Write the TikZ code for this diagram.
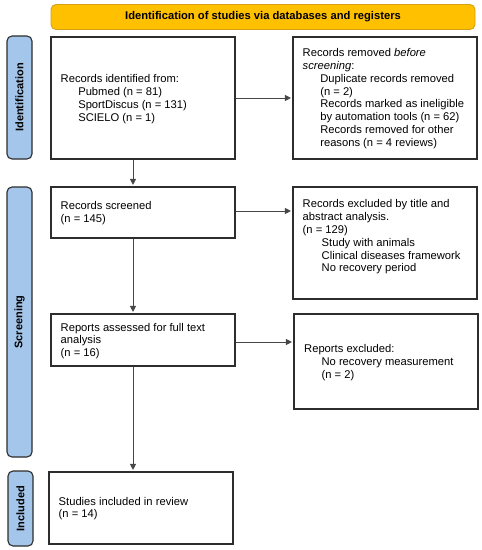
\documentclass[tikz,border=0pt]{standalone}
\usepackage{fontspec}
\setmainfont{Liberation Sans}
\usetikzlibrary{arrows.meta}
\definecolor{banfill}{RGB}{255,192,0}
\definecolor{bandraw}{RGB}{214,160,20}
\definecolor{sidefill}{RGB}{164,198,234}
\definecolor{sidedraw}{RGB}{45,45,45}
\definecolor{boxdraw}{RGB}{45,45,45}
\definecolor{arrc}{RGB}{70,70,70}
\tikzset{
  stagebox/.style={draw=boxdraw, line width=1.1pt, rectangle, minimum width=184pt, inner sep=0pt},
  boxtext/.style={anchor=west, align=left, inner sep=0pt, font=\fontsize{11.2}{12.8}\selectfont},
  sidelabel/.style={draw=sidedraw, fill=sidefill, line width=1.1pt, rounded corners=5pt, minimum width=25pt, inner sep=0pt},
  sidetext/.style={rotate=90, font=\bfseries\fontsize{11}{12}\selectfont, inner sep=0pt},
  banner/.style={draw=bandraw, fill=banfill, line width=0.9pt, rounded corners=5pt, minimum width=424pt, minimum height=25pt, inner sep=0pt, font=\bfseries\fontsize{11.2}{12}\selectfont},
  arr/.style={draw=arrc, line width=0.9pt, -{Triangle[length=6pt,width=6pt]}, shorten >=1.5pt}
}
\newcommand{\ind}{\hspace*{17.6pt}}
\begin{document}
\begin{tikzpicture}[x=1pt,y=-1pt]
\useasboundingbox (0,0) rectangle (482,550);
% banner
\node[banner] (ban) at (263,17) {Identification of studies via databases and registers};
% side labels
\node[sidelabel, minimum height=123pt] (sid) at (19.5,97.5) {};
\node[sidetext] (sidt) at (sid.center) {Identification};
\node[sidelabel, minimum height=270pt] (sscr) at (19.5,322) {};
\node[sidetext] (sscrt) at (sscr.center) {Screening};
\node[sidelabel, minimum height=75pt] (sinc) at (20.5,508.5) {};
\node[sidetext] (sinct) at (sinc.center) {Included};
% boxes
\node[stagebox, minimum height=122pt] (id) at (143,98) {};
\node[stagebox, minimum height=122pt] (rem) at (385,98) {};
\node[stagebox, minimum height=51pt] (scr) at (143,212.5) {};
\node[stagebox, minimum height=112pt] (exc) at (385,243) {};
\node[stagebox, minimum height=52pt] (rep) at (143,340) {};
\node[stagebox, minimum height=95pt] (repx) at (386,361.5) {};
\node[stagebox, minimum height=72pt] (inc) at (141,508) {};
% texts
\node[boxtext] (idt) at (60.5,99) {Records identified from:\\\ind Pubmed (n = 81)\\\ind SportDiscus (n = 131)\\\ind SCIELO (n = 1)};
\node[boxtext] (remt) at (302.5,98.5) {Records removed \textit{before}\\\textit{screening}:\\\ind Duplicate records removed\\\ind (n = 2)\\\ind Records marked as ineligible\\\ind by automation tools (n = 62)\\\ind Records removed for other\\\ind reasons (n = 4 reviews)};
\node[boxtext] (scrt) at (60.5,213) {Records screened\\(n = 145)};
\node[boxtext] (exct) at (302.5,237) {Records excluded by title and\\abstract analysis.\\(n = 129)\\\hspace*{19pt}Study with animals\\\hspace*{19pt}Clinical diseases framework\\\hspace*{19pt}No recovery period};
\node[boxtext] (rept) at (60.5,341) {Reports assessed for full text\\analysis\\(n = 16)};
\node[boxtext] (repxt) at (304,362.5) {Reports excluded:\\\hspace*{17.4pt}No recovery measurement\\\hspace*{17.4pt}(n = 2)};
\node[boxtext] (inct) at (58.5,508.5) {Studies included in review\\(n = 14)};
% connectors
\draw[arr] ([xshift=-10pt]id.south) -- ([xshift=-10pt]scr.north);
\draw[arr] ([xshift=-10pt]scr.south) -- ([xshift=-10pt]rep.north);
\draw[arr] ([xshift=-10pt]rep.south) -- ([xshift=-8pt]inc.north);
\draw[arr] (id.east) -- (rem.west);
\draw[arr] ([yshift=1.5pt]scr.east) -- ([yshift=1.5pt]scr.east -| exc.west);
\draw[arr] ([yshift=-2pt]rep.east) -- ([yshift=-2pt]rep.east -| repx.west);
\end{tikzpicture}
\end{document}
